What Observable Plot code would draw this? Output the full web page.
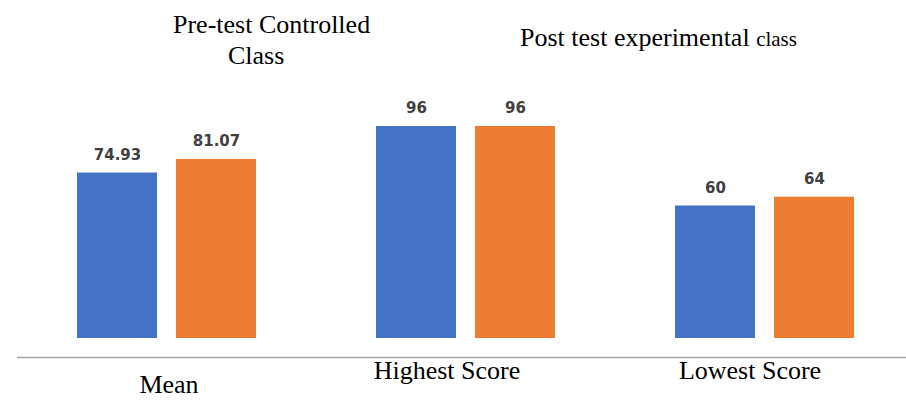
<!DOCTYPE html>
<html>
<head>
<meta charset="utf-8">
<script src="https://cdn.jsdelivr.net/npm/d3@7"></script>
<script src="https://cdn.jsdelivr.net/npm/@observablehq/plot@0.6"></script>
<style>
  html, body { margin: 0; padding: 0; background: #fff; }
  #wrap { position: relative; width: 906px; height: 405px; overflow: hidden; }
  .leg { position: absolute; font-family: "Liberation Serif", "Times New Roman", serif; color: #000; white-space: nowrap; line-height: 1; }
  #chart { position: absolute; left: 0; top: 90px; width: 915px; }
  #chart svg { max-width: none !important; }
  #chart text.val { letter-spacing: 1.5px; }
</style>
</head>
<body>
<div id="wrap">
  <div class="leg" style="left:173px; top:12px; font-size:26px;">Pre-test Controlled</div>
  <div class="leg" style="left:228px; top:43px; font-size:26px;">Class</div>
  <div class="leg" style="left:520px; top:25px; font-size:26px;">Post test experimental <span style="font-size:21px">class</span></div>
  <div id="chart"></div>
</div>
<script>
const categories = ["Mean", "Highest Score", "Lowest Score"];
const seriesNames = ["Pre-test Controlled Class", "Post test experimental class"];
const preValues = [74.93, 96, 60];
const postValues = [81.07, 96, 64];
const preLabels = ["74.93", "96", "60"];
const postLabels = ["81.07", "96", "64"];
const colors = ["#4472C4", "#ED7D31"];

const rows = [];
categories.forEach((c, i) => {
  rows.push({category: c, series: seriesNames[0], value: preValues[i], label: preLabels[i]});
  rows.push({category: c, series: seriesNames[1], value: postValues[i], label: postLabels[i]});
});

const labelFont = "Liberation Serif, Times New Roman, serif";
const chart = Plot.plot({
  width: 915,
  height: 315,
  marginTop: 36,
  marginBottom: 67,
  marginLeft: 16,
  marginRight: 0,
  fx: {domain: categories, padding: 0, axis: null},
  x: {domain: seriesNames, paddingInner: 0.19, paddingOuter: 0.6, axis: null},
  y: {domain: [0, 96], axis: null},
  color: {domain: seriesNames, range: colors},
  style: {background: "transparent", maxWidth: "none"},
  marks: [
    Plot.ruleY([0], {dy: 19, stroke: "#a6a6a6", strokeWidth: 1.5}),
    Plot.barY(rows, {fx: "category", x: "series", y: "value", fill: "series"}),
    Plot.text(rows, {fx: "category", x: "series", y: "value", text: "label", dy: -18,
      fill: "#404040", fontSize: 15, fontWeight: "bold", fontFamily: "DejaVu Sans, Verdana, sans-serif",
      className: "val"}),
    Plot.text(categories.filter(c => c === "Mean"), {fx: d => d, text: d => d, frameAnchor: "bottom", dy: 54, dx: 2,
      fontSize: 26, fontFamily: labelFont, fill: "#000"}),
    Plot.text(categories.filter(c => c === "Highest Score"), {fx: d => d, text: d => d, frameAnchor: "bottom", dy: 40, dx: -19,
      fontSize: 26, fontFamily: labelFont, fill: "#000"}),
    Plot.text(categories.filter(c => c === "Lowest Score"), {fx: d => d, text: d => d, frameAnchor: "bottom", dy: 40, dx: -15,
      fontSize: 26, fontFamily: labelFont, fill: "#000"})
  ]
});
document.getElementById("chart").appendChild(chart);
</script>
</body>
</html>
